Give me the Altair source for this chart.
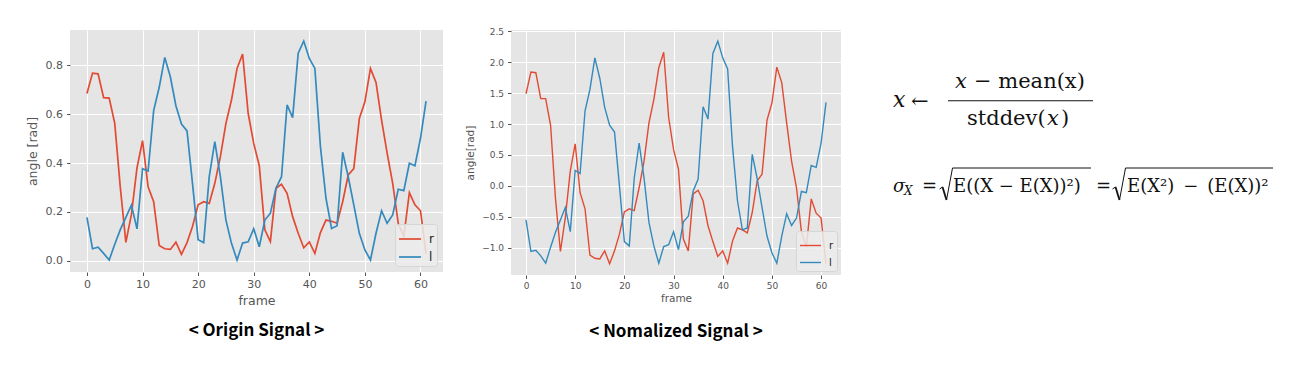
import altair as alt
import pandas as pd

# ---------------- data ----------------
frames = list(range(62))

origin_r = [0.684, 0.767, 0.764, 0.667, 0.665, 0.562, 0.30, 0.076, 0.19, 0.38,
            0.491, 0.303, 0.242, 0.063, 0.05, 0.047, 0.077, 0.027, 0.075, 0.142,
            0.229, 0.242, 0.235, 0.317, 0.426, 0.562, 0.657, 0.786, 0.845, 0.603,
            0.48, 0.389, 0.127, 0.079, 0.297, 0.313, 0.276, 0.181, 0.113, 0.054,
            0.078, 0.031, 0.116, 0.167, 0.162, 0.154, 0.242, 0.351, 0.377, 0.582,
            0.65, 0.786, 0.729, 0.575, 0.44, 0.317, 0.154, 0.10, 0.279, 0.229,
            0.205, 0.03]
origin_l = [0.178, 0.05, 0.056, 0.031, 0.004, 0.068, 0.128, 0.178, 0.228, 0.131,
            0.377, 0.367, 0.614, 0.709, 0.831, 0.752, 0.634, 0.559, 0.531, 0.314,
            0.087, 0.075, 0.344, 0.487, 0.344, 0.167, 0.072, 0.004, 0.073, 0.078,
            0.132, 0.058, 0.167, 0.195, 0.297, 0.344, 0.637, 0.585, 0.848, 0.898,
            0.827, 0.786, 0.467, 0.256, 0.133, 0.144, 0.444, 0.344, 0.229, 0.113,
            0.045, 0.004, 0.113, 0.205, 0.154, 0.188, 0.293, 0.287, 0.399, 0.389,
            0.501, 0.653]

norm_r = [1.49, 1.84, 1.83, 1.41, 1.41, 0.98, -0.21, -1.06, -0.51, 0.24,
          0.68, -0.11, -0.37, -1.12, -1.17, -1.18, -1.05, -1.26, -1.05, -0.78,
          -0.42, -0.37, -0.40, -0.03, 0.40, 1.02, 1.40, 1.91, 2.16, 1.11,
          0.59, 0.27, -0.86, -1.05, -0.13, -0.07, -0.24, -0.64, -0.90, -1.14,
          -1.05, -1.25, -0.89, -0.68, -0.71, -0.76, -0.43, 0.08, 0.19, 1.06,
          1.34, 1.92, 1.67, 1.02, 0.40, -0.03, -0.74, -0.99, -0.21, -0.44,
          -0.52, -1.26]
norm_l = [-0.55, -1.06, -1.04, -1.13, -1.25, -0.99, -0.75, -0.55, -0.35, -0.74,
          0.25, 0.20, 1.21, 1.56, 2.07, 1.74, 1.27, 0.98, 0.87, 0.0,
          -0.90, -0.97, 0.12, 0.69, 0.13, -0.59, -0.97, -1.25, -0.98, -0.95,
          -0.74, -1.03, -0.58, -0.49, -0.08, 0.11, 1.28, 1.08, 2.14, 2.34,
          2.07, 1.89, 0.63, -0.24, -0.71, -0.68, 0.51, 0.12, -0.35, -0.81,
          -1.08, -1.25, -0.81, -0.45, -0.64, -0.52, -0.09, -0.11, 0.33, 0.30,
          0.69, 1.35]

series_names = ["r", "l"]
series_colors = ["#E24A33", "#348ABD"]
x_ticks = [0, 10, 20, 30, 40, 50, 60]
origin_y_ticks = [0.0, 0.2, 0.4, 0.6, 0.8]
norm_y_ticks = [-1.0, -0.5, 0.0, 0.5, 1.0, 1.5, 2.0, 2.5]

df_origin = pd.DataFrame({
    "frame": frames * 2,
    "value": origin_r + origin_l,
    "series": ["r"] * len(frames) + ["l"] * len(frames),
})
df_norm = pd.DataFrame({
    "frame": frames * 2,
    "value": norm_r + norm_l,
    "series": ["r"] * len(frames) + ["l"] * len(frames),
})

FONT = "DejaVu Sans"
CAP_FONT = "Noto Sans CJK KR"
GRAY = "#555555"
PANEL_BG = "#E5E5E5"


def signal_panel(df, ydomain, yticks, ytitle, width, height, lab, ttl, lw,
                 sym_len, caption, cap_offset, leg_offset, leg_rowpad,
                 xtitle_pad, ytitle_pad):
    color = alt.Color(
        "series:N",
        scale=alt.Scale(domain=series_names, range=series_colors),
        legend=alt.Legend(
            title=None, orient="bottom-right", offset=leg_offset,
            symbolType="stroke", symbolSize=sym_len * sym_len,
            symbolStrokeWidth=lw, labelFontSize=lab + 1, labelFont=FONT,
            labelColor="#222222", labelOffset=7, padding=3,
            rowPadding=leg_rowpad, fillColor="rgba(236,236,236,0.85)",
            strokeColor="#D6D6D6", cornerRadius=3,
        ),
    )
    return alt.Chart(df).mark_line(strokeWidth=lw).encode(
        x=alt.X("frame:Q",
                scale=alt.Scale(domain=[-3.05, 64.05], nice=False, zero=False),
                axis=alt.Axis(values=x_ticks, title="frame", labelFontSize=lab,
                              titleFontSize=ttl, labelPadding=3,
                              titlePadding=xtitle_pad)),
        y=alt.Y("value:Q",
                scale=alt.Scale(domain=ydomain, nice=False, zero=False),
                axis=alt.Axis(values=yticks, format=".1f", title=ytitle,
                              labelFontSize=lab, titleFontSize=ttl,
                              labelPadding=4, titlePadding=ytitle_pad)),
        color=color,
        detail="series:N",
    ).properties(
        width=width, height=height,
        view=alt.ViewBackground(fill=PANEL_BG, strokeWidth=0),
        title=alt.TitleParams(caption, orient="bottom", anchor="middle",
                              frame="group", font=CAP_FONT, fontSize=17,
                              fontWeight="bold", color="#000000",
                              offset=cap_offset),
    )


p1 = signal_panel(df_origin, [-0.045, 0.943], origin_y_ticks, "angle [rad]",
                  373, 242, 11, 12.5, 1.7, 22, "< Origin Signal >", 16, 6, -5,
                  5, 6)
p2 = signal_panel(df_norm, [-1.44, 2.52], norm_y_ticks, "angle[rad]",
                  330, 245, 9, 10.5, 1.4, 21, "< Nomalized Signal >", 20, 4, -7,
                  3, 6)

# ---------------- formula panel (annotation text) ----------------
FX, FY = 909, 30  # page position of the formula panel origin


def txt(s, px, py, size, italic=False, align="left"):
    return alt.Chart(pd.DataFrame({"t": [s]})).mark_text(
        align=align, baseline="alphabetic", font="DejaVu Serif",
        fontSize=size, fontStyle="italic" if italic else "normal",
        color="#111111", x=px - FX, y=py - FY,
    ).encode(text="t:N")


def seg(x1, y1, x2, y2, w=1.0):
    return alt.Chart(pd.DataFrame({"k": [0]})).mark_rule(
        color="#111111", strokeWidth=w
    ).encode(x=alt.value(x1 - FX), y=alt.value(y1 - FY),
             x2=alt.value(x2 - FX), y2=alt.value(y2 - FY))


EN = "\u2002"
pieces = [
    txt("x", 893, 106.5, 22, italic=True),
    txt("←", 911, 107.5, 21),
    txt("x", 955, 88.3, 21, italic=True),
    txt("− mean(x)", 974, 88.3, 21),
    seg(948, 100.7, 1093, 100.7, 1.1),
    txt("stddev(", 967, 125, 21),
    txt("x", 1047, 125, 21, italic=True),
    txt(")", 1061, 125, 21),
    # second formula
    txt("σ", 893, 191.5, 18, italic=True),
    txt("X", 904, 195, 12, italic=True),
    txt("=", 922, 191.5, 18),
    seg(939.5, 189, 942.5, 187, 1.0),
    seg(942.5, 187, 946.5, 200, 1.8),
    seg(946.5, 200, 952.5, 168, 1.0),
    seg(952.5, 168, 1091, 168, 1.0),
    txt("E((X − E(X))²)", 953, 191.5, 18),
    txt("=", 1096, 191.5, 18),
    seg(1112.5, 189, 1115.5, 187, 1.0),
    seg(1115.5, 187, 1119.5, 200, 1.8),
    seg(1119.5, 200, 1125.5, 168, 1.0),
    seg(1125.5, 168, 1273, 168, 1.0),
    txt("E(X²)" + EN + "−" + EN + "(E(X))²", 1127, 191.5, 18),
]
p3 = alt.layer(*pieces).properties(width=375, height=245)

chart = alt.hconcat(p1, p2, p3, spacing=68, bounds="flush").resolve_scale(
    color="independent"
).properties(
    padding={"left": 18, "top": 19, "right": 5, "bottom": 5},
).configure_view(strokeWidth=0).configure_axis(
    domain=False, grid=True, gridColor="white", gridWidth=1,
    tickColor=GRAY, tickSize=3.5, labelColor=GRAY, titleColor=GRAY,
    labelFont=FONT, titleFont=FONT, titleFontWeight="normal",
)

chart.save("out.html", embed_options={"renderer": "svg", "actions": False})
